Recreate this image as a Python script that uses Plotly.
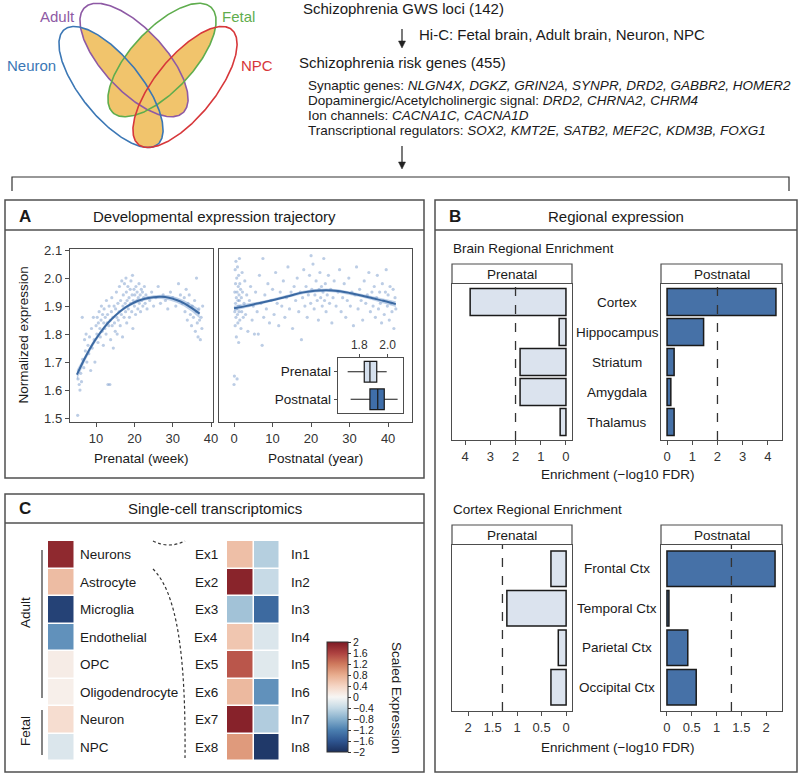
import numpy as np
import plotly.graph_objects as go

W, H = 800, 776
FONT = "Liberation Sans, Arial, Helvetica, sans-serif"
INK = "#1a1a1a"
FRAME = "#4d4d4d"
TICK = "#333333"

# ---------------- Venn diagram (ellipse parameters, pixel space) ----------------
venn_names = ["Adult", "Fetal", "Neuron", "NPC"]
venn_colors = ["#8e5aa5", "#5fad4e", "#3b77b5", "#d7373a"]
venn_cx = [134, 162, 111, 185]
venn_cy = [60, 60, 87, 87]
venn_semi_a = [72, 72, 74, 74]
venn_semi_b = [31, 31, 30, 30]
venn_angle = [47, 133, 51, 129]
venn_label_x = [57, 238, 31, 257]
venn_label_y = [16, 16, 65, 65]
venn_fill = "#f1c46c"

# ---------------- flow text ----------------
flow_headers = ["Schizophrenia GWS loci (142)", "Hi-C: Fetal brain, Adult brain, Neuron, NPC",
                "Schizophrenia risk genes (455)"]
gene_groups = ["Synaptic genes: ", "Dopaminergic/Acetylcholinergic signal: ", "Ion channels: ",
               "Transcriptional regulators: "]
gene_lists = ["NLGN4X, DGKZ, GRIN2A, SYNPR, DRD2, GABBR2, HOMER2", "DRD2, CHRNA2, CHRM4",
              "CACNA1C, CACNA1D", "SOX2, KMT2E, SATB2, MEF2C, KDM3B, FOXG1"]

# ---------------- Panel A: developmental trajectory ----------------
prenatal_points = [
    (5.2, 1.51), (5.3, 1.64), (5.6, 1.62), (5.8, 1.60), (6.0, 1.66), (6.2, 1.63), (6.5, 1.71), (6.8, 1.68),
    (7.0, 1.78), (7.2, 1.74), (7.4, 1.80), (7.6, 1.70), (7.9, 1.76), (8.1, 1.73), (8.3, 1.79), (8.6, 1.67),
    (8.8, 1.82), (9.0, 1.75), (9.3, 1.86), (9.5, 1.78), (9.7, 1.70), (6.4, 1.86),
    (10.0, 1.83), (10.2, 1.80), (10.3, 1.86), (10.5, 1.77), (10.6, 1.84), (10.8, 1.88), (11.0, 1.82),
    (11.1, 1.79), (11.3, 1.85), (11.4, 1.90), (11.6, 1.81), (11.7, 1.87), (11.9, 1.76), (12.0, 1.84),
    (12.1, 1.89), (12.3, 1.82), (12.4, 1.86), (12.6, 1.80), (12.7, 1.92), (12.9, 1.84), (13.0, 1.87),
    (13.1, 1.62), (13.3, 1.83), (13.4, 1.90), (13.6, 1.62), (13.7, 1.85), (13.8, 1.78), (14.0, 1.88),
    (14.1, 1.93), (14.2, 1.83), (14.4, 1.86), (14.5, 1.75), (14.7, 1.90), (14.8, 1.84), (15.0, 1.81),
    (15.1, 1.89), (15.3, 1.95), (15.4, 1.86), (15.5, 1.80), (15.7, 1.91), (15.8, 1.85), (16.0, 1.88),
    (16.1, 1.97), (16.3, 1.83), (16.4, 1.92), (16.6, 1.87), (16.7, 1.99), (16.9, 1.79),
    (17.0, 1.90), (17.1, 1.94), (17.3, 1.86), (17.4, 1.98), (17.6, 1.91), (17.7, 1.88), (17.9, 1.95),
    (18.0, 1.84), (18.1, 1.92), (18.3, 1.97), (18.4, 1.89), (18.6, 1.93), (18.7, 1.86), (18.9, 1.96),
    (19.0, 1.91), (19.1, 1.99), (19.3, 1.88), (19.4, 1.94), (19.6, 1.82), (19.7, 1.92), (19.9, 1.96),
    (20.0, 1.90), (20.1, 1.94), (20.3, 1.87), (20.4, 1.97), (20.6, 1.92), (20.7, 1.95), (20.9, 1.89),
    (21.0, 1.93), (21.2, 1.98), (21.3, 1.91), (21.5, 1.94), (21.6, 1.88), (21.8, 1.96), (21.9, 1.92),
    (22.1, 1.95), (22.2, 1.90), (22.4, 1.93), (22.6, 1.97), (22.8, 1.91), (23.0, 1.94), (23.3, 1.89),
    (23.6, 1.93), (17.8, 2.00), (19.5, 2.01),
    (24.0, 1.92), (24.5, 1.95), (25.0, 1.90), (25.6, 1.93), (26.2, 1.97), (26.8, 1.91), (27.5, 1.94),
    (28.1, 1.92), (28.7, 1.89), (29.4, 1.95), (30.0, 1.93), (30.8, 1.90), (31.5, 1.98), (32.0, 1.94),
    (32.5, 1.91),
    (33.0, 1.93), (33.2, 1.88), (33.5, 1.96), (33.8, 1.85), (34.0, 1.91), (34.3, 1.94), (34.6, 1.87),
    (34.9, 1.83), (35.1, 1.90), (35.4, 1.86), (35.7, 1.92), (35.9, 1.81), (36.1, 1.88), (36.4, 1.84),
    (36.6, 1.79), (36.8, 1.89), (37.0, 1.85), (37.2, 1.78), (37.4, 1.86), (37.6, 1.82), (37.8, 1.90),
    (36.2, 2.00),
]
postnatal_points = [
    (0.0, 1.62), (0.1, 1.65), (0.2, 1.88), (0.2, 1.95), (0.3, 2.03), (0.3, 1.83), (0.4, 1.91), (0.4, 1.98),
    (0.5, 1.86), (0.5, 2.06), (0.6, 1.93), (0.6, 1.79), (0.7, 1.89), (0.7, 2.00), (0.8, 1.64), (0.8, 1.95),
    (0.9, 1.87), (0.9, 2.04), (1.0, 1.92), (1.0, 1.84), (1.1, 1.97), (1.1, 1.90), (1.2, 2.01), (1.2, 1.77),
    (1.3, 1.94), (1.3, 1.88), (1.4, 2.07), (1.4, 1.92), (1.5, 1.85), (1.5, 1.98), (1.6, 1.90), (1.7, 1.96),
    (1.8, 1.82), (1.9, 1.93), (2.0, 1.88), (2.1, 2.02), (2.2, 1.95), (2.4, 1.86), (2.6, 1.91), (2.8, 1.99),
    (3.0, 1.87), (3.3, 1.94), (3.6, 1.81), (4.0, 1.92), (4.3, 1.97), (4.7, 1.85), (5.0, 1.90), (5.3, 1.80),
    (5.6, 1.95), (6.0, 1.88), (6.3, 1.80), (6.6, 2.01), (7.0, 1.91), (7.3, 1.76), (7.7, 1.86), (8.0, 1.94),
    (8.4, 1.89), (8.8, 1.98), (9.2, 1.84), (9.6, 1.92), (10.0, 1.96), (10.4, 1.87), (10.8, 2.02),
    (11.2, 1.91), (11.6, 1.83), (12.0, 1.95), (12.4, 1.90), (12.8, 1.99), (13.2, 1.86), (13.6, 1.93),
    (14.0, 2.04), (14.4, 1.89), (14.8, 1.95), (15.2, 1.82), (15.6, 1.97), (7.5, 2.07),
    (16.0, 1.92), (16.4, 2.00), (16.8, 1.88), (17.2, 1.95), (17.5, 1.78), (17.8, 1.93), (18.1, 2.03),
    (18.4, 1.90), (18.7, 1.97), (19.0, 1.86), (19.3, 1.94), (19.6, 2.01), (19.9, 1.91), (20.2, 1.96),
    (20.5, 2.05), (20.8, 1.89), (21.0, 1.94), (21.3, 1.99), (21.6, 1.92), (21.9, 1.85), (22.1, 1.96),
    (22.3, 2.02), (22.5, 1.93), (22.7, 1.97), (22.9, 1.90), (23.1, 1.95), (23.3, 2.07), (23.5, 1.92),
    (23.7, 1.98), (23.9, 1.88), (24.2, 1.94), (24.5, 2.01), (24.8, 1.91), (25.1, 1.96), (25.4, 1.84),
    (25.7, 1.93), (26.0, 1.99), (20.0, 2.08),
    (26.5, 1.90), (27.0, 1.95), (27.4, 2.03), (27.8, 1.88), (28.2, 1.93), (28.6, 1.98), (29.0, 1.86),
    (29.4, 1.92), (29.8, 2.00), (30.2, 1.90), (30.6, 1.95), (31.0, 1.83), (31.4, 1.94), (31.8, 2.04),
    (32.2, 1.89), (32.6, 1.96), (33.0, 1.92), (33.4, 1.85), (33.8, 1.99), (34.2, 1.91), (34.6, 1.94),
    (35.0, 2.02), (35.4, 1.88),
    (35.8, 1.95), (36.1, 1.90), (36.4, 1.97), (36.7, 1.86), (37.0, 1.93), (37.2, 2.01), (37.5, 1.89),
    (37.8, 1.95), (38.0, 1.91), (38.3, 1.84), (38.5, 1.98), (38.8, 1.92), (39.0, 1.87), (39.3, 1.95),
    (39.5, 2.03), (39.8, 1.90), (40.0, 1.94), (40.3, 1.85), (40.5, 1.97), (40.8, 1.91), (41.0, 1.88),
    (41.3, 1.96), (41.5, 1.82), (41.8, 1.93), (42.0, 1.89),
]
prenatal_fit_week = [5, 7, 9, 11, 13, 15, 17, 19, 21, 23, 25, 27, 29, 31, 33, 35, 37]
prenatal_fit = [1.655, 1.712, 1.762, 1.803, 1.838, 1.866, 1.889, 1.906, 1.919, 1.927, 1.932, 1.933,
                1.930, 1.922, 1.910, 1.893, 1.873]
prenatal_se = [0.018, 0.013, 0.010, 0.008, 0.007, 0.006, 0.006, 0.006, 0.006, 0.006, 0.007, 0.008,
               0.009, 0.010, 0.011, 0.013, 0.016]
postnatal_fit_year = [0, 3, 6, 9, 12, 15, 18, 21, 24, 27, 30, 33, 36, 39, 42]
postnatal_fit = [1.892, 1.900, 1.909, 1.918, 1.928, 1.939, 1.949, 1.955, 1.957, 1.954, 1.947, 1.938,
                 1.928, 1.918, 1.907]
postnatal_se = [0.009, 0.007, 0.006, 0.006, 0.006, 0.006, 0.006, 0.006, 0.006, 0.006, 0.006, 0.006,
                0.007, 0.008, 0.010]
box_groups = ["Prenatal", "Postnatal"]
box_stats = [[1.718, 1.835, 1.875, 1.923, 1.993],   # lower whisker, q1, median, q3, upper whisker
             [1.739, 1.875, 1.930, 1.976, 2.070]]
box_fill = ["#d5e0ee", "#3f6ea9"]

# ---------------- Panel B: regional enrichment ----------------
brain_regions = ["Cortex", "Hippocampus", "Striatum", "Amygdala", "Thalamus"]
brain_prenatal = [3.80, 0.27, 1.82, 1.82, 0.23]
brain_postnatal = [4.32, 1.45, 0.28, 0.15, 0.28]
brain_cutoff = 2.0
cortex_regions = ["Frontal Ctx", "Temporal Ctx", "Parietal Ctx", "Occipital Ctx"]
cortex_prenatal = [0.31, 1.21, 0.16, 0.31]
cortex_postnatal = [2.18, 0.04, 0.42, 0.59]
cortex_cutoff = 1.3
pre_color, post_color = "#dbe3ee", "#4671a7"

# ---------------- Panel C: single-cell heatmap ----------------
cell_types = ["Neurons", "Astrocyte", "Microglia", "Endothelial", "OPC", "Oligodendrocyte", "Neuron", "NPC"]
cell_values = [1.85, 0.65, -1.80, -1.05, 0.12, 0.08, 0.30, -0.22]
ex_labels = ["Ex1", "Ex2", "Ex3", "Ex4", "Ex5", "Ex6", "Ex7", "Ex8"]
ex_values = [0.62, 1.90, -0.62, 0.55, 1.45, 0.68, 1.92, 0.95]
in_labels = ["In1", "In2", "In3", "In4", "In5", "In6", "In7", "In8"]
in_values = [-0.50, -0.38, -1.40, -0.22, -0.18, -1.05, -0.52, -1.90]
cbar_ticks = [2, 1.6, 1.2, 0.8, 0.4, 0, -0.4, -0.8, -1.2, -1.6, -2]
heat_scale = [[0.0, "#1b2f5c"], [0.1, "#2e5590"], [0.2, "#4b7fb0"], [0.3, "#86afcc"], [0.4, "#c4d9e5"],
              [0.5, "#f7f6f4"], [0.6, "#f5d5c4"], [0.7, "#e8ad8f"], [0.8, "#cf7a5d"], [0.9, "#ad4140"],
              [1.0, "#7d1a24"]]


def fx(px):
    return px / W


def fy(py):
    return 1 - py / H


fig = go.Figure()

# ---- Venn: fill where >= 2 ellipses overlap, then outlines ----
gx = np.arange(0, 290) + 0.5
gy = np.arange(0, 160) + 0.5
GX, GY = np.meshgrid(gx, gy)
count = np.zeros_like(GX)
for cx, cy, a, b, ang in zip(venn_cx, venn_cy, venn_semi_a, venn_semi_b, venn_angle):
    th = np.radians(ang)
    dx, dy = GX - cx, GY - cy
    u = dx * np.cos(th) + dy * np.sin(th)
    v = -dx * np.sin(th) + dy * np.cos(th)
    count += ((u / a) ** 2 + (v / b) ** 2 <= 1).astype(float)
mask = np.where(count >= 2, 1.0, np.nan)
fig.add_trace(go.Heatmap(x=gx, y=gy, z=mask, colorscale=[[0, venn_fill], [1, venn_fill]], zmin=0, zmax=1,
                         showscale=False, hoverinfo="skip", xaxis="x", yaxis="y"))
t = np.linspace(0, 2 * np.pi, 300)
for i in range(4):
    th = np.radians(venn_angle[i])
    a, b = venn_semi_a[i], venn_semi_b[i]
    ex = venn_cx[i] + a * np.cos(t) * np.cos(th) - b * np.sin(t) * np.sin(th)
    ey = venn_cy[i] + a * np.cos(t) * np.sin(th) + b * np.sin(t) * np.cos(th)
    fig.add_trace(go.Scatter(x=ex, y=ey, mode="lines", line=dict(color=venn_colors[i], width=1.6),
                             hoverinfo="skip", xaxis="x", yaxis="y"))

# ---- Panel A ----
pw, pv = zip(*prenatal_points)
qw, qv = zip(*postnatal_points)
dot = dict(size=3.2, color="rgba(96,136,192,0.42)")
band_col = "rgba(110,150,205,0.45)"
line_col = "#3b69a2"
for (xs, ys, fxv, fyv, se, ax) in [(pw, pv, prenatal_fit_week, prenatal_fit, prenatal_se, "2"),
                                   (qw, qv, postnatal_fit_year, postnatal_fit, postnatal_se, "3")]:
    fig.add_trace(go.Scatter(x=list(xs), y=list(ys), mode="markers", marker=dot, hoverinfo="skip",
                             xaxis="x" + ax, yaxis="y" + ax))
    up = [f + s for f, s in zip(fyv, se)]
    lo = [f - s for f, s in zip(fyv, se)]
    fig.add_trace(go.Scatter(x=list(fxv) + list(fxv)[::-1], y=up + lo[::-1], fill="toself", fillcolor=band_col,
                             line=dict(width=0), mode="lines", hoverinfo="skip", xaxis="x" + ax, yaxis="y" + ax))
    fig.add_trace(go.Scatter(x=fxv, y=fyv, mode="lines", line=dict(color=line_col, width=2, shape="spline"),
                             hoverinfo="skip", xaxis="x" + ax, yaxis="y" + ax))

for g, st, col in zip(box_groups, box_stats, box_fill):
    fig.add_trace(go.Box(y=[g], lowerfence=[st[0]], q1=[st[1]], median=[st[2]], q3=[st[3]], upperfence=[st[4]],
                         orientation="h", fillcolor=col, line=dict(color=INK, width=1.2), width=0.75,
                         whiskerwidth=0, boxpoints=False, hoverinfo="skip", xaxis="x4", yaxis="y4"))

# ---- Panel B ----
for vals, color, ax, n in [(brain_prenatal, pre_color, "5", len(brain_regions)),
                           (brain_postnatal, post_color, "6", len(brain_regions)),
                           (cortex_prenatal, pre_color, "7", len(cortex_regions)),
                           (cortex_postnatal, post_color, "8", len(cortex_regions))]:
    fig.add_trace(go.Bar(x=vals, y=list(range(n)), orientation="h", width=0.9,
                         marker=dict(color=color, line=dict(color=INK, width=1.5)),
                         hoverinfo="skip", xaxis="x" + ax, yaxis="y" + ax))

# ---- Panel C ----
fig.add_trace(go.Heatmap(z=[[v] for v in cell_values], x=[0], y=list(range(len(cell_types))),
                         colorscale=heat_scale, zmin=-2, zmax=2, xgap=1.5, ygap=1.5, showscale=False,
                         hoverinfo="skip", xaxis="x9", yaxis="y9"))
fig.add_trace(go.Heatmap(z=[[e, i] for e, i in zip(ex_values, in_values)], x=[0, 1],
                         y=list(range(len(ex_labels))), colorscale=heat_scale, zmin=-2, zmax=2,
                         xgap=1.5, ygap=1.5, hoverinfo="skip", xaxis="x10", yaxis="y10",
                         colorbar=dict(x=fx(327), xanchor="left", y=fy(697), yanchor="middle",
                                       len=110, lenmode="pixels", thickness=21, thicknessmode="pixels",
                                       xpad=0, ypad=0, outlinewidth=1, outlinecolor="#333",
                                       tickvals=cbar_ticks,
                                       ticktext=[("\u2212" if v < 0 else "") + f"{abs(v):g}" for v in cbar_ticks],
                                       ticks="outside", ticklen=3, tickcolor="#333",
                                       tickfont=dict(family=FONT, size=10.5, color=INK))))


def base_axis(**kw):
    d = dict(showline=True, mirror=True, linecolor=FRAME, linewidth=1.2, ticks="outside", ticklen=4,
             tickwidth=1, tickcolor=FRAME, showgrid=False, zeroline=False, fixedrange=True, automargin=False,
             tickfont=dict(family=FONT, size=13, color=TICK))
    d.update(kw)
    return d


hidden = dict(visible=False, fixedrange=True, showgrid=False, zeroline=False, automargin=False)
layout = dict(
    width=W, height=H, margin=dict(l=0, r=0, t=0, b=0, pad=0, autoexpand=False), autosize=False,
    paper_bgcolor="white", plot_bgcolor="white", showlegend=False, hovermode=False,
    font=dict(family=FONT, color=INK),
    xaxis=dict(domain=[0, 1], range=[0, W], anchor="y", **hidden),
    yaxis=dict(domain=[0, 1], range=[H, 0], anchor="x", **hidden),
    xaxis2=base_axis(domain=[fx(70), fx(213)], range=[3.2, 40.5], tickvals=[10, 20, 30, 40], anchor="y2"),
    yaxis2=base_axis(domain=[fy(422), fy(249)], range=[1.486, 2.104],
                     tickvals=[1.5, 1.6, 1.7, 1.8, 1.9, 2.0, 2.1],
                     ticktext=["1.5", "1.6", "1.7", "1.8", "1.9", "2.0", "2.1"], anchor="x2"),
    xaxis3=base_axis(domain=[fx(219), fx(412)], range=[-3.9, 46.2], tickvals=[0, 10, 20, 30, 40], anchor="y3"),
    yaxis3=base_axis(domain=[fy(422), fy(249)], range=[1.486, 2.104], showticklabels=False, ticks="",
                     anchor="x3"),
    xaxis4=base_axis(domain=[fx(338), fx(403)], range=[1.65, 2.108], side="top", tickvals=[1.8, 2.0],
                     ticktext=["1.8", "2.0"], ticklen=3, anchor="y4",
                     tickfont=dict(family=FONT, size=12, color=TICK)),
    yaxis4=base_axis(domain=[fy(413), fy(358)], type="category", categoryorder="array",
                     categoryarray=box_groups[::-1], range=[-0.5, 1.5], ticklen=3, anchor="x4",
                     tickfont=dict(family=FONT, size=13.5, color=INK)),
    xaxis5=base_axis(domain=[fx(452), fx(572)], range=[4.52, -0.24], tickvals=[0, 1, 2, 3, 4], anchor="y5"),
    yaxis5=base_axis(domain=[fy(440), fy(284)], range=[4.6, -0.6], showticklabels=False, ticks="", anchor="x5"),
    xaxis6=base_axis(domain=[fx(661), fx(782)], range=[-0.24, 4.56], tickvals=[0, 1, 2, 3, 4], anchor="y6"),
    yaxis6=base_axis(domain=[fy(440), fy(284)], range=[4.6, -0.6], showticklabels=False, ticks="", anchor="x6"),
    xaxis7=base_axis(domain=[fx(452), fx(572)], range=[2.33, -0.12], tickvals=[0, 0.5, 1, 1.5, 2],
                     ticktext=["0", "0.5", "1", "1.5", "2"], anchor="y7"),
    yaxis7=base_axis(domain=[fy(711), fy(545)], range=[3.6, -0.6], showticklabels=False, ticks="", anchor="x7"),
    xaxis8=base_axis(domain=[fx(661), fx(782)], range=[-0.12, 2.32], tickvals=[0, 0.5, 1, 1.5, 2],
                     ticktext=["0", "0.5", "1", "1.5", "2"], anchor="y8"),
    yaxis8=base_axis(domain=[fy(711), fy(545)], range=[3.6, -0.6], showticklabels=False, ticks="", anchor="x8"),
    xaxis9=dict(domain=[fx(48), fx(75)], range=[-0.5, 0.5], anchor="y9", **hidden),
    yaxis9=dict(domain=[fy(761), fy(541)], range=[7.5, -0.5], anchor="x9", **hidden),
    xaxis10=dict(domain=[fx(227), fx(280)], range=[-0.5, 1.5], anchor="y10", **hidden),
    yaxis10=dict(domain=[fy(761), fy(541)], range=[7.5, -0.5], anchor="x10", **hidden),
)
fig.update_layout(**layout)

shapes = []
anns = []


def text(x, y, s, size=13.5, xanchor="center", yanchor="middle", angle=0, color=INK, xref="x", yref="y"):
    anns.append(dict(x=x, y=y, xref=xref, yref=yref, text=s, showarrow=False, xanchor=xanchor,
                     yanchor=yanchor, textangle=angle, borderpad=0,
                     font=dict(family=FONT, size=size, color=color)))


def line_path(path, width=1.2, color="#333", dash="solid", fill=None):
    shapes.append(dict(type="path", path=path, xref="x", yref="y", layer="above",
                       line=dict(color=color, width=width, dash=dash),
                       fillcolor=fill if fill else "rgba(0,0,0,0)"))


# Venn labels
for name, col, lx, ly in zip(venn_names, venn_colors, venn_label_x, venn_label_y):
    text(lx, ly, name, size=15, color=col)

# flow text
text(302, 8, flow_headers[0], size=15, xanchor="left")
text(418, 34, flow_headers[1], size=15, xanchor="left")
text(298, 62, flow_headers[2], size=15, xanchor="left")
for k, (g, genes) in enumerate(zip(gene_groups, gene_lists)):
    text(307, 85 + 15 * k, g + "<i>" + genes + "</i>", size=13.5, xanchor="left")
line_path("M 402 29 L 402 42", width=1.3)
line_path("M 398.5 41 L 405.5 41 L 402 48 Z", width=0.5, fill="#222", color="#222")
line_path("M 402 146 L 402 163", width=1.3)
line_path("M 398.5 162 L 405.5 162 L 402 169 Z", width=0.5, fill="#222", color="#222")
line_path("M 12 191 L 12 177 L 789 177 L 789 191", width=1.2)

# panel frames
for (x0, y0, x1, y1, ysep) in [(5, 200, 424, 478, 230), (435, 200, 797, 772, 230), (5, 494, 424, 772, 523)]:
    shapes.append(dict(type="rect", x0=x0, y0=y0, x1=x1, y1=y1, xref="x", yref="y", layer="below",
                       line=dict(color="#505050", width=1.5)))
    shapes.append(dict(type="line", x0=x0, y0=ysep, x1=x1, y1=ysep, xref="x", yref="y", layer="below",
                       line=dict(color="#505050", width=1.5)))
text(18, 216, "<b>A</b>", size=17, xanchor="left")
text(214.5, 216, "Developmental expression trajectory", size=15)
text(448, 216, "<b>B</b>", size=17, xanchor="left")
text(616, 216, "Regional expression", size=15)
text(18, 508, "<b>C</b>", size=17, xanchor="left")
text(214.5, 508, "Single-cell transcriptomics", size=15)

# Panel A labels
text(23, 335.5, "Normalized expression", size=13.5, angle=-90)
text(141.5, 458, "Prenatal (week)", size=13.5)
text(315.5, 458, "Postnatal (year)", size=13.5)

# Panel B
text(452, 248, "Brain Regional Enrichment", size=13.5, xanchor="left")
text(452, 509, "Cortex Regional Enrichment", size=13.5, xanchor="left")
for (sy0, sy1) in [(264, 284), (525, 545)]:
    for (sx0, sx1, lab) in [(452, 572, "Prenatal"), (661, 782, "Postnatal")]:
        shapes.append(dict(type="rect", x0=sx0, x1=sx1, y0=sy0, y1=sy1, xref="x", yref="y", layer="below",
                           fillcolor="white", line=dict(color=FRAME, width=1.2)))
        text((sx0 + sx1) / 2, (sy0 + sy1) / 2 + 0.5, lab, size=13.5)
for ax, cut in [("5", brain_cutoff), ("6", brain_cutoff), ("7", cortex_cutoff), ("8", cortex_cutoff)]:
    shapes.append(dict(type="line", x0=cut, x1=cut, y0=0, y1=1, xref="x" + ax, yref="y" + ax + " domain",
                       layer="above", line=dict(color="#333", width=1.3, dash="dash")))
for i, r in enumerate(brain_regions):
    text(617, i, r, size=13.5, yref="y6")
for i, r in enumerate(cortex_regions):
    text(617, i, r, size=13.5, yref="y8")
text(617, 474, "Enrichment (\u2212log10 FDR)", size=13.5)
text(617, 747, "Enrichment (\u2212log10 FDR)", size=13.5)

# Panel C
for i, c in enumerate(cell_types):
    text(79, i, c, size=13.5, xanchor="left", yref="y9")
for i, (e, n) in enumerate(zip(ex_labels, in_labels)):
    text(219, i, e, size=13.5, xanchor="right", yref="y10")
    text(290, i, n, size=13.5, xanchor="left", yref="y10")
line_path("M 42 550 L 42 698", width=1.2)
line_path("M 42 710 L 42 755", width=1.2)
text(25, 613, "Adult", size=13.5, angle=-90)
text(25, 731, "Fetal", size=13.5, angle=-90)
line_path("M 153 541 Q 169 549 185 541", width=1.2, dash="3px,2.5px")
line_path("M 153 569 C 176 592 186 650 185 758", width=1.2, dash="3px,2.5px")
text(397, 698, "Scaled Expression", size=13.5, angle=90)

fig.update_layout(shapes=shapes, annotations=anns)
fig.write_html("out.html", config={"displayModeBar": False, "staticPlot": True},
               post_script="document.body.style.margin='0px';document.body.style.padding='0px';")
